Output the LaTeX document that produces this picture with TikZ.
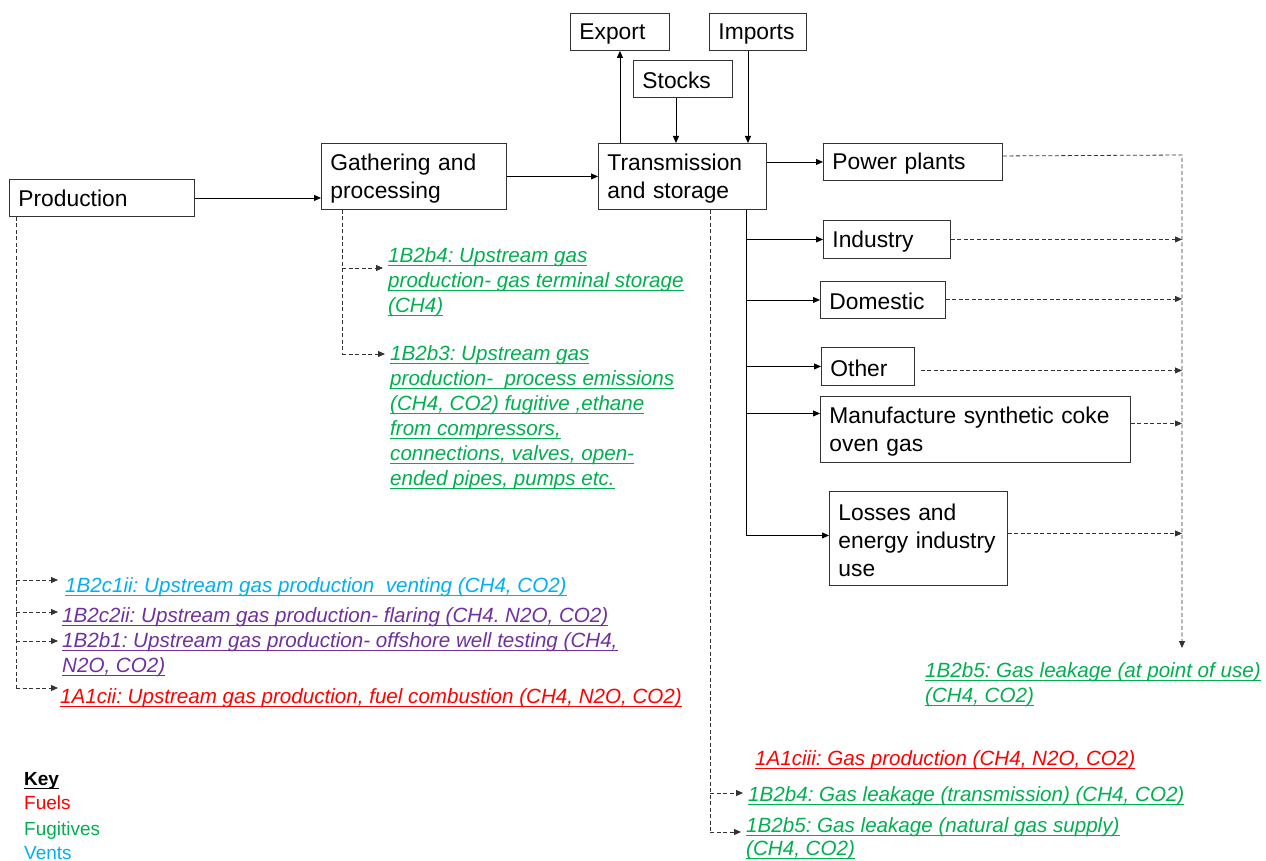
\documentclass[tikz,border=0pt]{standalone}
\usepackage{fontspec}
\setmainfont{Liberation Sans}
\usetikzlibrary{arrows.meta}
\frenchspacing
\definecolor{fuel}{HTML}{FF0000}
\definecolor{fug}{HTML}{00B050}
\definecolor{vent}{HTML}{00B0F0}
\definecolor{flare}{HTML}{7030A0}
\definecolor{edge}{HTML}{333333}
\newcommand\ulx[1]{\setbox0\hbox{#1}\rlap{\rule[-4pt]{\wd0}{1.3pt}}\box0}
\newcommand\sx{\rule{0pt}{20pt}}
\tikzset{
  box/.style={draw=edge, line width=0.9pt, font=\fontsize{22.8}{28}\selectfont, align=left,
    inner xsep=9pt, inner ysep=0pt, anchor=north west},
  lab/.style={font=\fontsize{20.6}{25}\selectfont\itshape, align=left, inner sep=0pt, anchor=base west},
  solidarr/.style={draw=black, line width=0.8pt, -{Triangle[length=7pt,width=6pt]}},
  solidline/.style={draw=black, line width=0.8pt},
  dasharr/.style={draw=edge, line width=0.8pt, dash pattern=on 4pt off 2.5pt, -{Triangle[length=7pt,width=6pt]}},
  dashline/.style={draw=edge, line width=0.8pt, dash pattern=on 4pt off 2.5pt},
}
\begin{document}
\begin{tikzpicture}[x=1pt,y=-1pt]
\useasboundingbox (0,0) rectangle (1266,861);
% boxes
\node[box, text width=167pt, minimum height=37pt] (prod) at (9,179) {Production};
\node[box, text width=167pt, minimum height=66pt] (gath) at (321,143) {\sx Gathering and\\processing};
\node[box, text width=150pt, minimum height=66pt] (trans) at (598,143) {\sx Transmission\\and storage};
\node[box, text width=81pt, minimum height=37pt] (export) at (570,13) {\sx Export};
\node[box, text width=81pt, minimum height=37pt] (stocks) at (633,60) {\sx Stocks};
\node[box, text width=79pt, minimum height=37pt] (imports) at (709,13) {\sx Imports};
\node[box, text width=161pt, minimum height=37pt] (power) at (823,143) {\sx Power plants};
\node[box, text width=109pt, minimum height=38pt] (ind) at (823,220) {\sx Industry};
\node[box, text width=107pt, minimum height=37pt] (dom) at (820,281) {\sx Domestic};
\node[box, text width=75pt, minimum height=38pt] (oth) at (821,347) {\sx Other};
\node[box, text width=292pt, minimum height=66pt] (manu) at (820,396) {\sx Manufacture synthetic coke\\oven gas};
\node[box, text width=160pt, minimum height=94pt] (loss) at (829,491) {\sx Losses and\\energy industry\\use};

% labels (anchored at the baseline of their last line)
\node[lab, text=fug] (up1) at (388,312) {\ulx{1B2b4: Upstream gas}\\\ulx{production- gas terminal storage}\\\ulx{(CH4)}};
\node[lab, text=fug] (up2) at (390,485) {\ulx{1B2b3: Upstream gas}\\\ulx{production-~ process emissions}\\\ulx{(CH4, CO2) fugitive ,ethane}\\\ulx{from compressors,}\\\ulx{connections, valves, open-}\\\ulx{ended pipes, pumps etc.}};
\node[lab, text=vent] (p1) at (65,592) {\ulx{1B2c1ii: Upstream gas production~ venting (CH4, CO2)}};
\node[lab, text=flare] (p2) at (62,622) {\ulx{1B2c2ii: Upstream gas production- flaring (CH4. N2O, CO2)}};
\node[lab, text=flare] (p3) at (62,672) {\ulx{1B2b1: Upstream gas production- offshore well testing (CH4,}\\\ulx{N2O, CO2)}};
\node[lab, text=fuel] (p4) at (60,703) {\ulx{1A1cii: Upstream gas production, fuel combustion (CH4, N2O, CO2)}};
\node[lab, text=fug] (leak) at (925,702) {\ulx{1B2b5: Gas leakage (at point of use)}\\\ulx{(CH4, CO2)}};
\node[lab, text=fuel] (t1) at (755,765) {\ulx{1A1ciii: Gas production (CH4, N2O, CO2)}};
\node[lab, text=fug] (t2) at (748,801) {\ulx{1B2b4: Gas leakage (transmission) (CH4, CO2)}};
\node[lab, text=fug, font=\fontsize{20.6}{23}\selectfont\itshape] (t3) at (746,855) {\ulx{1B2b5: Gas leakage (natural gas supply)}\\\ulx{(CH4, CO2)}};

% key
\node[lab, font=\fontsize{19}{25}\selectfont\bfseries] (key) at (24,785) {\ulx{Key}};
\node[lab, font=\fontsize{19}{25}\selectfont, text=fuel] (kfuel) at (24,809) {Fuels};
\node[lab, font=\fontsize{19}{25}\selectfont, text=fug] (kfug) at (24,835) {Fugitives};
\node[lab, font=\fontsize{19}{25}\selectfont, text=vent] (kvent) at (24,859) {Vents};

% main flow
\draw[solidarr] (prod.east) -- (prod.east -| gath.west);
\draw[solidarr] (gath.east) -- (gath.east -| trans.west);
\draw[solidarr] (trans.east |- power.west) -- (power.west);
\draw[solidarr] (trans.north -| export.south) -- (export.south);
\draw[solidarr] ([xshift=-7pt]stocks.south) -- ([xshift=-7pt]stocks.south |- trans.north);
\draw[solidarr] ([xshift=-10pt]imports.south) -- ([xshift=-10pt]imports.south |- trans.north);

% distribution bus
\coordinate (bus) at ([xshift=-21pt]trans.south east);
\coordinate (manuin) at ([yshift=16pt]manu.west);
\coordinate (lossin) at ([yshift=3pt]loss.west);
\draw[solidline] (bus) -- (bus |- lossin);
\draw[solidarr] (bus |- ind.west) -- (ind.west);
\draw[solidarr] (bus |- dom.west) -- (dom.west);
\draw[solidarr] (bus |- oth.west) -- (oth.west);
\draw[solidarr] (bus |- manuin) -- (manuin);
\draw[solidarr] (bus |- lossin) -- (lossin);

% right rail to point-of-use leakage
\coordinate (rail) at (1182,155);
\coordinate (railend) at (1182,648);
\draw[dasharr] ([yshift=6pt]power.east) -- (rail) -- (railend);
\draw[dasharr] (ind.east) -- (ind.east -| rail);
\draw[dasharr] ([yshift=1pt]dom.east) -- ([yshift=1pt]dom.east -| rail);
\draw[dasharr] ([xshift=6pt,yshift=-4pt]oth.east) -- ([yshift=-4pt]oth.east -| rail);
\draw[dasharr] ([yshift=6pt]manu.east) -- ([yshift=6pt]manu.east -| rail);
\draw[dasharr] ([yshift=5pt]loss.east) -- ([yshift=5pt]loss.east -| rail);

% gathering fugitives
\coordinate (gtap) at ([xshift=21pt]gath.south west);
\coordinate (up1in) at ([xshift=-5pt,yshift=44pt]up1.base west);
\coordinate (up2in) at ([xshift=-5pt,yshift=131pt]up2.base west);
\draw[dashline] (gtap) -- (gtap |- up2in);
\draw[dasharr] (gtap |- up1in) -- (up1in);
\draw[dasharr] (gtap |- up2in) -- (up2in);

% production emissions
\coordinate (ptap) at ([xshift=7pt]prod.south west);
\coordinate (p1in) at ([xshift=-7pt,yshift=12pt]p1.base west);
\coordinate (p2in) at ([xshift=-4pt,yshift=10pt]p2.base west);
\coordinate (p3in) at ([xshift=-4pt,yshift=31pt]p3.base west);
\coordinate (p4in) at ([xshift=-2pt,yshift=15pt]p4.base west);
\draw[dashline] (ptap) -- (ptap |- p4in);
\draw[dasharr] (ptap |- p1in) -- (p1in);
\draw[dasharr] (ptap |- p2in) -- (p2in);
\draw[dasharr] (ptap |- p3in) -- (p3in);
\draw[dasharr] (ptap |- p4in) -- (p4in);

% transmission leakage
\coordinate (ttap) at ([xshift=112pt]trans.south west);
\coordinate (t2in) at ([xshift=-5pt,yshift=8pt]t2.base west);
\coordinate (t3in) at ([xshift=-5pt,yshift=23pt]t3.base west);
\draw[dashline] (ttap) -- (ttap |- t3in);
\draw[dasharr] (ttap |- t2in) -- (t2in);
\draw[dasharr] (ttap |- t3in) -- (t3in);
\end{tikzpicture}
\end{document}
